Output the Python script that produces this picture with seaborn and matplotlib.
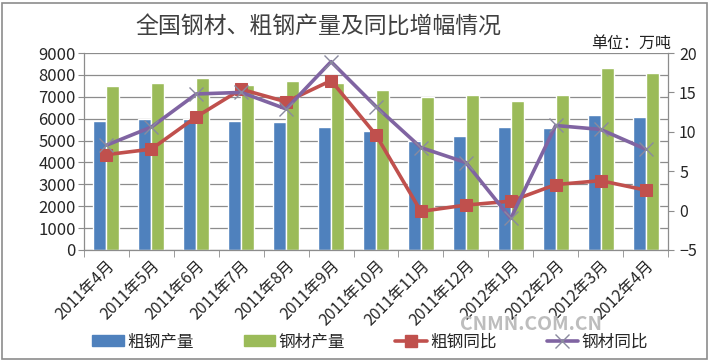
import numpy as np
import pandas as pd
import matplotlib
matplotlib.use("Agg")
import matplotlib.pyplot as plt
import seaborn as sns
from matplotlib.patches import Rectangle
from matplotlib.lines import Line2D
from matplotlib.patches import Patch

sns.set_style("white")
plt.rcParams['font.family'] = ['Noto Sans CJK SC', 'DejaVu Sans']

# data
months = ['2011年4月', '2011年5月', '2011年6月', '2011年7月', '2011年8月', '2011年9月',
          '2011年10月', '2011年11月', '2011年12月', '2012年1月', '2012年2月',
          '2012年3月', '2012年4月']
crude_output = [5900, 6000, 5990, 5900, 5850, 5620, 5450, 5000, 5200, 5640, 5560, 6160, 6060]
steel_output = [7500, 7620, 7850, 7550, 7700, 7620, 7290, 6980, 7070, 6790, 7100, 8310, 8080]
crude_yoy = [7.1, 7.8, 11.9, 15.4, 13.8, 16.5, 9.6, -0.1, 0.7, 1.2, 3.3, 3.8, 2.6]
steel_yoy = [8.3, 10.6, 14.8, 15.0, 12.9, 18.9, 13.2, 8.0, 6.1, -1.0, 10.8, 10.3, 7.8]

blue = '#4F81BD'
green = '#9BBB59'
red = '#C0504D'
purple = '#8064A2'

bars = pd.DataFrame({
    'month': months * 2,
    'value': crude_output + steel_output,
    'series': ['粗钢产量'] * len(months) + ['钢材产量'] * len(months),
})

fig = plt.figure(figsize=(7.1, 3.61), dpi=100)
ax = fig.add_axes([84 / 710, 1 - 250 / 361, (668 - 84) / 710, (250 - 53) / 361])

sns.barplot(data=bars, x='month', y='value', hue='series', order=months,
            palette=[blue, green], width=0.58, dodge=True, saturation=1,
            legend=False, ax=ax)
ax.set_ylim(0, 9000)
ax.set_yticks(range(0, 9001, 1000))
ax.set_xlim(-0.5, len(months) - 0.5)
ax.yaxis.grid(True, color='#8c8c8c', linewidth=0.9)
ax.set_axisbelow(True)
ax.set_xlabel('')
ax.set_ylabel('')

ax2 = ax.twinx()
x = np.arange(len(months))
sns.lineplot(x=x, y=crude_yoy, color=red, linewidth=2.6, marker='s',
             markersize=9, markeredgecolor=red, ax=ax2)
sns.lineplot(x=x, y=steel_yoy, color=purple, linewidth=2.6, marker='x',
             markersize=10, markeredgewidth=1, markeredgecolor='#8a8a9e', ax=ax2)
ax2.set_ylim(-5, 20)
ax2.set_yticks(range(-5, 21, 5))
ax2.set_xlim(-0.5, len(months) - 0.5)

for a in (ax, ax2):
    a.spines['top'].set_visible(False)
    for s in ['left', 'right', 'bottom']:
        a.spines[s].set_color('#8c8c8c')
        a.spines[s].set_linewidth(0.9)

ax.spines['right'].set_visible(False)
ax2.spines['left'].set_visible(False)
ax2.spines['bottom'].set_visible(False)

ax.tick_params(axis='y', length=4, color='#8c8c8c', labelsize=12, pad=2, left=True)
ax2.tick_params(axis='y', length=4, color='#8c8c8c', labelsize=11.5, pad=4, right=True)
ax.set_xticks(x)
ax.set_xticks(np.arange(-0.5, len(months), 1), minor=True)
ax.tick_params(axis='x', which='major', length=0, pad=5)
ax.tick_params(axis='x', which='minor', length=5, color='#8c8c8c', bottom=True)
ax.set_xticklabels(months, rotation=45, ha='right', rotation_mode='anchor', fontsize=11.5)

fig.text(318 / 710, 1 - 27 / 361, '全国钢材、粗钢产量及同比增幅情况', ha='center', va='center',
         fontsize=16.5, color='#404040')
fig.text(671 / 710, 1 - 43 / 361, '单位：万吨', ha='right', va='center', fontsize=11.5,
         color='#222222')
fig.text(531 / 710, 1 - 325 / 361, 'CNMN.COM.CN', ha='center', va='center', fontsize=14,
         color='#bdbdbd', fontweight='bold', zorder=0)

handles = [
    Patch(facecolor=blue, edgecolor=blue),
    Patch(facecolor=green, edgecolor=green),
    Line2D([], [], color=red, linewidth=2.6, marker='s', markersize=9),
    Line2D([], [], color=purple, linewidth=2.6, marker='x', markersize=10,
           markeredgecolor='#8a8a9e'),
]
fig.legend(handles, ['粗钢产量', '钢材产量', '粗钢同比', '钢材同比'], loc='center',
           bbox_to_anchor=(370 / 710, 1 - 342 / 361), ncol=4, frameon=False,
           fontsize=12, handlelength=1.9, handleheight=0.6, handletextpad=0.2,
           columnspacing=3.0)

fig.patches.append(Rectangle((2 / 710, 2 / 361), 705 / 710, 356 / 361, transform=fig.transFigure,
                             fill=False, edgecolor='#8c8c8c', linewidth=1.2))

fig.savefig('out.png', dpi=100)
